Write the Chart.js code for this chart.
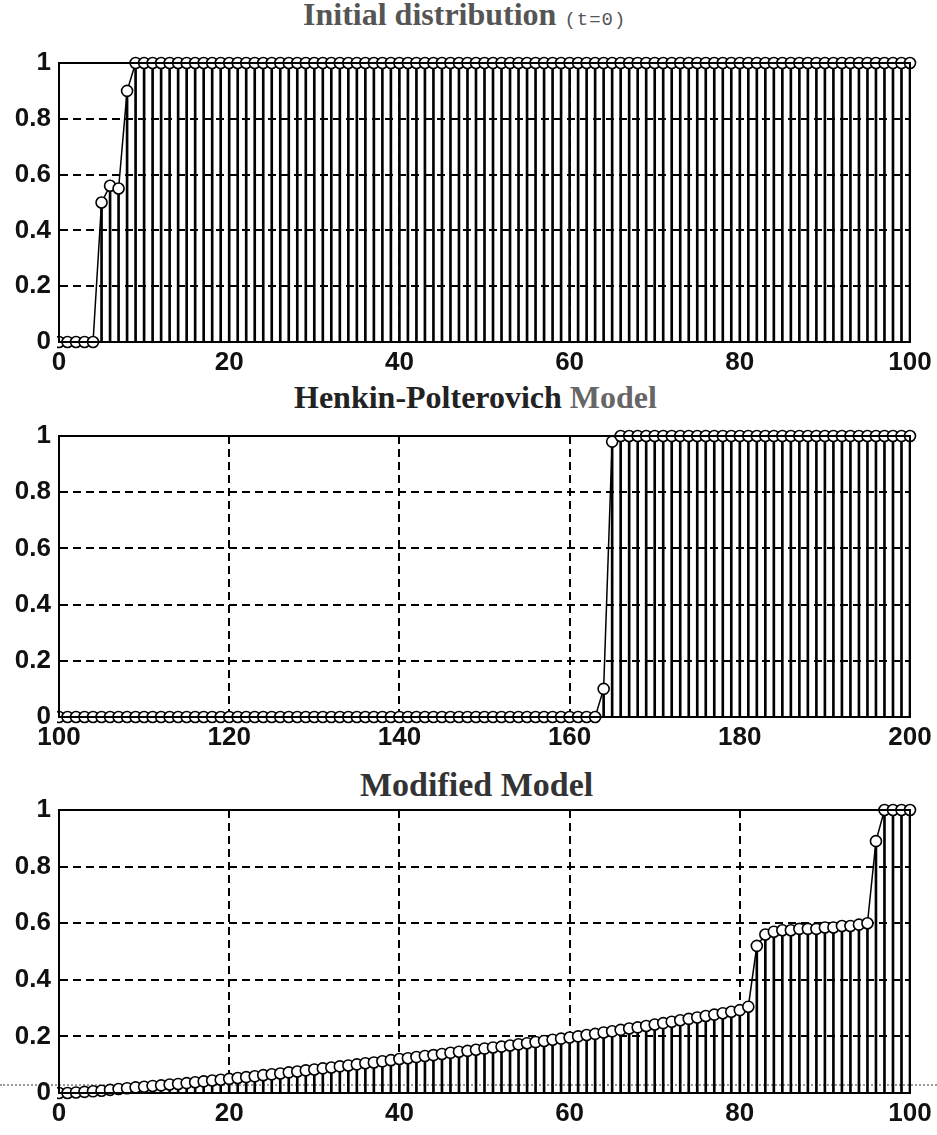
<!DOCTYPE html>
<html>
<head>
<meta charset="utf-8">
<script src="https://cdn.jsdelivr.net/npm/chart.js@4.4.1/dist/chart.umd.min.js"></script>
<style>
  html, body { margin: 0; padding: 0; background: #fff; }
  #page { position: relative; width: 937px; height: 1135px; overflow: hidden; }
  canvas { position: absolute; left: 0; }
  .ttl { position: absolute; white-space: nowrap; font-family: "Liberation Serif", serif; font-weight: bold; font-size: 32px; line-height: 32px; }
  .mono { font-family: "Liberation Mono", monospace; font-weight: normal; font-size: 19px; letter-spacing: 1px; }
  #scanline { position: absolute; left: 0; top: 1084px; width: 937px; border-top: 2px dotted #999; }
</style>
</head>
<body>
<div id="page">
  <div id="scanline"></div>
  <div class="ttl" style="left:303px; top:-2px; color:#555;">Initial distribution <span class="mono">(t=0)</span></div>
  <canvas id="c1" width="937" height="375" style="top:0px"></canvas>
  <div class="ttl" style="left:294px; top:381px; color:#222;">Henkin-Polterovich <span style="color:#666">Model</span></div>
  <canvas id="c2" width="937" height="375" style="top:375px"></canvas>
  <div class="ttl" style="left:360px; top:769px; color:#333; font-size:34px;">Modified Model</div>
  <canvas id="c3" width="937" height="385" style="top:750px"></canvas>
</div>
<script>
// ---- data ----
const initStart = 0;
const initValues = [
  0, 0, 0, 0, 0, 0.5, 0.56, 0.55, 0.9, 1,
  1, 1, 1, 1, 1, 1, 1, 1, 1, 1,
  1, 1, 1, 1, 1, 1, 1, 1, 1, 1,
  1, 1, 1, 1, 1, 1, 1, 1, 1, 1,
  1, 1, 1, 1, 1, 1, 1, 1, 1, 1,
  1, 1, 1, 1, 1, 1, 1, 1, 1, 1,
  1, 1, 1, 1, 1, 1, 1, 1, 1, 1,
  1, 1, 1, 1, 1, 1, 1, 1, 1, 1,
  1, 1, 1, 1, 1, 1, 1, 1, 1, 1,
  1, 1, 1, 1, 1, 1, 1, 1, 1, 1,
  1
];

const hpStart = 100;
const hpValues = [
  0, 0, 0, 0, 0, 0, 0, 0, 0, 0,
  0, 0, 0, 0, 0, 0, 0, 0, 0, 0,
  0, 0, 0, 0, 0, 0, 0, 0, 0, 0,
  0, 0, 0, 0, 0, 0, 0, 0, 0, 0,
  0, 0, 0, 0, 0, 0, 0, 0, 0, 0,
  0, 0, 0, 0, 0, 0, 0, 0, 0, 0,
  0, 0, 0, 0, 0.1, 0.98, 1, 1, 1, 1,
  1, 1, 1, 1, 1, 1, 1, 1, 1, 1,
  1, 1, 1, 1, 1, 1, 1, 1, 1, 1,
  1, 1, 1, 1, 1, 1, 1, 1, 1, 1,
  1
];

const modStart = 0;
const modValues = [
  0, 0, 0.002, 0.004, 0.006, 0.008, 0.011, 0.014, 0.017, 0.02,
  0.022, 0.025, 0.027, 0.03, 0.032, 0.035, 0.038, 0.041, 0.044, 0.047,
  0.05, 0.053, 0.056, 0.059, 0.063, 0.066, 0.069, 0.073, 0.076, 0.08,
  0.083, 0.087, 0.09, 0.094, 0.097, 0.101, 0.105, 0.108, 0.112, 0.116,
  0.12, 0.123, 0.127, 0.131, 0.134, 0.138, 0.142, 0.146, 0.149, 0.153,
  0.157, 0.161, 0.164, 0.168, 0.172, 0.176, 0.18, 0.184, 0.188, 0.192,
  0.196, 0.2, 0.205, 0.209, 0.214, 0.218, 0.223, 0.228, 0.232, 0.237,
  0.242, 0.247, 0.252, 0.257, 0.262, 0.267, 0.272, 0.277, 0.282, 0.287,
  0.293, 0.305, 0.52, 0.56, 0.57, 0.575, 0.575, 0.58, 0.58, 0.58,
  0.585, 0.585, 0.59, 0.59, 0.595, 0.6, 0.89, 1, 1, 1,
  1
];

const yTicks = [0, 0.2, 0.4, 0.6, 0.8, 1];
const yTickLabels = ['0', '0.2', '0.4', '0.6', '0.8', '1'];

// draw the closed box round the axes
const frame = {
  id: 'frame',
  afterDatasetsDraw(chart) {
    const a = chart.chartArea, ctx = chart.ctx;
    ctx.save();
    ctx.strokeStyle = '#000';
    ctx.lineWidth = 2;
    ctx.strokeRect(a.left, a.top, a.right - a.left, a.bottom - a.top);
    ctx.restore();
  }
};

const tickFont = { family: 'Liberation Sans', weight: 'bold', size: 26 };

function stemChart(id, start, values, padTop, xHeight) {
  const pts = values.map((v, i) => ({ x: start + i, y: v }));
  return new Chart(document.getElementById(id), {
    type: 'line',
    data: {
      datasets: [
        {
          type: 'line', data: pts, order: 0,
          borderColor: '#000', borderWidth: 1.5,
          pointRadius: 5.5, pointBorderWidth: 1.6,
          pointBorderColor: '#000', pointBackgroundColor: '#fff',
          clip: { left: 2, right: 8, top: 8, bottom: 8 }
        },
        {
          type: 'bar', data: pts, order: 1,
          backgroundColor: '#000', barThickness: 2
        }
      ]
    },
    options: {
      responsive: false, animation: false, devicePixelRatio: 1,
      layout: { padding: { top: padTop, right: 27, left: 0, bottom: 0 } },
      plugins: { legend: { display: false }, tooltip: { enabled: false }, title: { display: false } },
      scales: {
        x: {
          type: 'linear', min: start, max: start + 100, offset: false,
          ticks: { stepSize: 20, color: '#111', font: tickFont, padding: 5, maxRotation: 0, autoSkip: false },
          grid: { color: '#000', lineWidth: 2, drawTicks: false, offset: false },
          border: { display: true, color: '#000', width: 2, dash: [8, 5] },
          afterFit: s => { s.height = xHeight; }
        },
        y: {
          min: 0, max: 1,
          afterBuildTicks: s => { s.ticks = yTicks.map(v => ({ value: v })); },
          ticks: { color: '#111', font: tickFont, padding: 8, callback: (v, i) => yTickLabels[i] },
          grid: { color: '#000', lineWidth: 2, drawTicks: false },
          border: { display: true, color: '#000', width: 2, dash: [8, 5] },
          afterFit: s => { s.width = 59; }
        }
      }
    },
    plugins: [frame]
  });
}

stemChart('c1', initStart, initValues, 63, 33);
stemChart('c2', hpStart, hpValues, 61, 33);
stemChart('c3', modStart, modValues, 60, 42);
</script>
</body>
</html>
